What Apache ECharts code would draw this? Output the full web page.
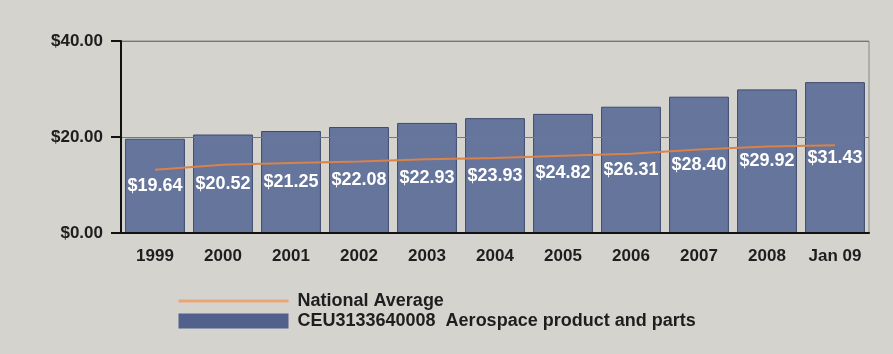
<!DOCTYPE html>
<html lang="en">
<head>
  <meta charset="UTF-8">
  <title>Aerospace product and parts</title>
  <style>
    html, body { margin: 0; padding: 0; background: #d4d3ce; }
    #chart { width: 893px; height: 354px; }
  </style>
</head>
<body>
  <div id="chart"></div>
  <script src="https://cdn.jsdelivr.net/npm/echarts@6/dist/echarts.min.js"></script>
  <script>
    var years = ['1999', '2000', '2001', '2002', '2003', '2004', '2005', '2006', '2007', '2008', 'Jan 09'];
    var aerospace = [19.64, 20.52, 21.25, 22.08, 22.93, 23.93, 24.82, 26.31, 28.40, 29.92, 31.43];
    var nationalAvg = [13.2, 14.2, 14.6, 14.9, 15.35, 15.6, 16.1, 16.5, 17.4, 18.0, 18.3];
    var yTicks = [0, 20, 40];

    var font = 'Liberation Sans, Arial, sans-serif';
    var barName = 'CEU3133640008  Aerospace product and parts';

    var myChart = echarts.init(document.getElementById('chart'));
    var option = {
      backgroundColor: '#d4d3ce',
      animation: false,
      grid: {
        left: 121,
        right: 24,
        top: 41,
        bottom: 121,
        show: true,
        borderColor: '#888',
        borderWidth: 1,
        backgroundColor: 'transparent'
      },
      legend: {
        orient: 'vertical',
        left: 172,
        top: 287,
        itemWidth: 110,
        itemHeight: 15,
        itemGap: 2,
        data: [
          {
            name: 'National Average',
            itemStyle: { opacity: 0 },
            lineStyle: { color: '#eaa676', width: 3 }
          },
          {
            name: barName,
            icon: 'rect',
            itemStyle: { color: '#52618b', borderWidth: 0 }
          }
        ],
        textStyle: {
          color: '#1e1e1e',
          fontFamily: font,
          fontWeight: 'bold',
          fontSize: 18,
          padding: [0, 0, 0, 4]
        }
      },
      xAxis: {
        type: 'category',
        data: years,
        z: 3,
        axisLine: { lineStyle: { color: '#111', width: 2 } },
        axisTick: { length: 12, lineStyle: { color: '#111', width: 2 } },
        axisLabel: {
          interval: 0,
          hideOverlap: false,
          margin: 15,
          color: '#1e1e1e',
          fontFamily: font,
          fontWeight: 'bold',
          fontSize: 17
        }
      },
      yAxis: {
        type: 'value',
        min: yTicks[0],
        max: yTicks[yTicks.length - 1],
        interval: yTicks[1] - yTicks[0],
        z: 3,
        axisLine: { show: true, lineStyle: { color: '#111', width: 2 } },
        axisTick: { show: true, length: 10, lineStyle: { color: '#111', width: 2 } },
        splitLine: { lineStyle: { color: '#777', width: 1 } },
        axisLabel: {
          margin: 18,
          color: '#1e1e1e',
          fontFamily: font,
          fontWeight: 'bold',
          fontSize: 17,
          formatter: function (v) { return '$' + v.toFixed(2); }
        }
      },
      series: [
        {
          name: barName,
          type: 'bar',
          data: aerospace,
          barWidth: '88%',
          itemStyle: {
            color: '#65759c',
            borderColor: '#3e4a6e',
            borderWidth: 1
          },
          label: {
            show: true,
            position: 'inside',
            color: '#fff',
            fontFamily: font,
            fontWeight: 'bold',
            fontSize: 18,
            formatter: function (p) { return '$' + p.value.toFixed(2); }
          }
        },
        {
          name: 'National Average',
          type: 'line',
          data: nationalAvg,
          symbol: 'none',
          z: 4,
          itemStyle: { color: '#e0915c' },
          lineStyle: { color: '#d9824a', width: 2 }
        }
      ]
    };
    myChart.setOption(option);
  </script>
</body>
</html>
